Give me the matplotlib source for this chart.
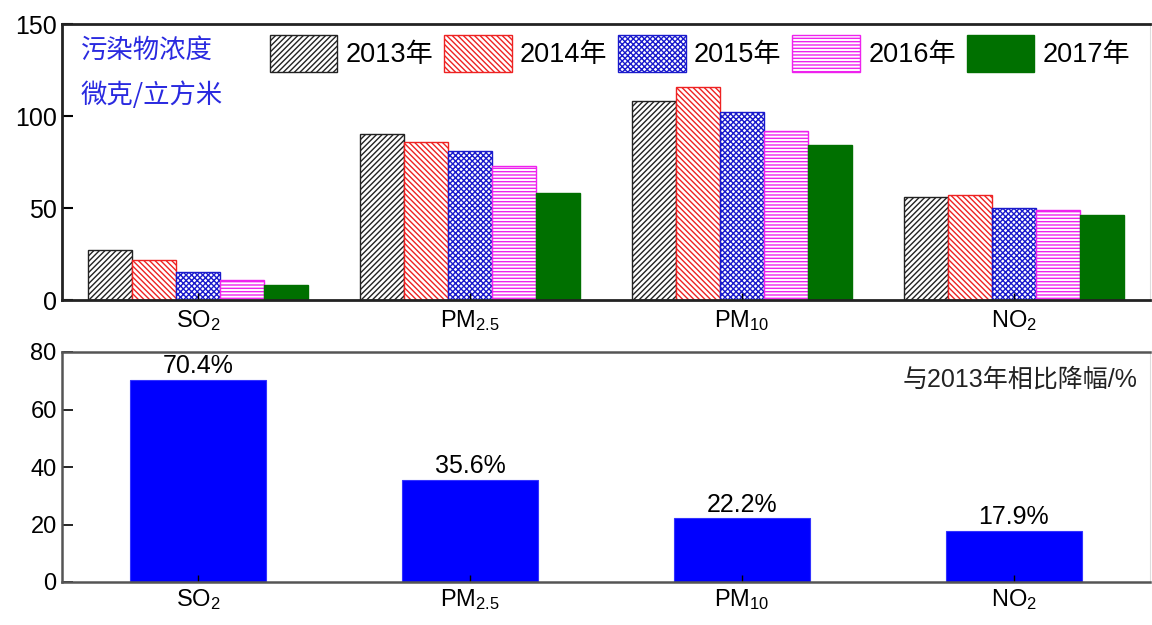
import numpy as np
import matplotlib
matplotlib.use("Agg")
import matplotlib.pyplot as plt

# pollutant concentrations, ug/m3
pollutants = ["SO$_2$", "PM$_{2.5}$", "PM$_{10}$", "NO$_2$"]
years = ["2013年", "2014年", "2015年", "2016年", "2017年"]
conc_2013 = [27, 90, 108, 56]
conc_2014 = [22, 86, 116, 57]
conc_2015 = [15, 81, 102, 50]
conc_2016 = [11, 73, 92, 49]
conc_2017 = [8, 58, 84, 46]
# reduction vs 2013, %
drop_pct = [70.4, 35.6, 22.2, 17.9]

plt.rcParams["font.family"] = ["Liberation Sans", "Noto Sans CJK SC"]
plt.rcParams["mathtext.fontset"] = "custom"
plt.rcParams["mathtext.rm"] = "Liberation Sans"
plt.rcParams["mathtext.default"] = "regular"
plt.rcParams["hatch.linewidth"] = 1.0

fig = plt.figure(figsize=(11.52, 6.25), dpi=100)
ax1 = fig.add_axes([0.054, 0.52, 0.944, 0.4416])
ax2 = fig.add_axes([0.054, 0.0688, 0.944, 0.368])

x = np.arange(len(pollutants))
w = 0.162
series = [conc_2013, conc_2014, conc_2015, conc_2016, conc_2017]
styles = [
    dict(color="white", edgecolor="#222222", hatch="//////"),
    dict(color="white", edgecolor="#ee2222", hatch="\\\\\\\\\\\\"),
    dict(color="white", edgecolor="#1a1acc", hatch="xxxxxx"),
    dict(color="white", edgecolor="#ee22ee", hatch="-----"),
    dict(color="#007000", edgecolor="#007000", hatch=None),
]
for i, (vals, st) in enumerate(zip(series, styles)):
    ax1.bar(x + (i - 2) * w, vals, w, label=years[i], linewidth=1.0, **st)

ax1.set_xlim(-0.5, 3.5)
ax1.set_ylim(0, 150)
ax1.set_yticks([0, 50, 100, 150])
ax1.set_xticks(x)
ax1.set_xticklabels(pollutants, fontsize=17)
ax1.tick_params(axis="y", direction="in", length=8, width=1.5, pad=4, labelsize=18)
ax1.tick_params(axis="x", direction="in", length=5, width=1, pad=6)
for s in ["left", "bottom", "top"]:
    ax1.spines[s].set_linewidth(2)
    ax1.spines[s].set_color("#222222")
ax1.spines["right"].set_color("#dddddd")

leg = ax1.legend(loc="upper right", bbox_to_anchor=(0.992, 1.0), ncol=5, frameon=False,
                 handlelength=2.5, handleheight=1.75, handletextpad=0.3,
                 columnspacing=0.4, borderaxespad=0.0,
                 prop={"family": ["Liberation Sans", "Noto Sans CJK SC"], "size": 19.5})

ax1.text(0.017, 0.906, "污染物浓度", transform=ax1.transAxes, color="#2a2ae0",
         fontsize=19, ha="left", va="center", family=["Noto Sans CJK SC"])
ax1.text(0.017, 0.743, "微克/立方米", transform=ax1.transAxes, color="#2a2ae0",
         fontsize=19, ha="left", va="center", family=["Noto Sans CJK SC"])

bars = ax2.bar(x, drop_pct, 0.5, color="#0000ff", edgecolor="#3333ff", linewidth=0.8)
ax2.bar_label(bars, labels=[f"{v}%" for v in drop_pct], padding=1, fontsize=18)
ax2.set_xlim(-0.5, 3.5)
ax2.set_ylim(0, 80)
ax2.set_yticks([0, 20, 40, 60, 80])
ax2.set_xticks(x)
ax2.set_xticklabels(pollutants, fontsize=17)
ax2.tick_params(axis="y", direction="in", length=8, width=1.2, pad=4, labelsize=17)
ax2.tick_params(axis="x", direction="in", length=5, width=1, pad=4)
for s in ["left", "bottom", "top"]:
    ax2.spines[s].set_linewidth(1.8)
    ax2.spines[s].set_color("#555555")
ax2.spines["right"].set_color("#dddddd")
ax2.text(0.989, 0.878, "与2013年相比降幅/%", transform=ax2.transAxes, fontsize=18,
         ha="right", va="center", color="#222222",
         family=["Liberation Sans", "Noto Sans CJK SC"])

fig.savefig("out.png", dpi=100)
